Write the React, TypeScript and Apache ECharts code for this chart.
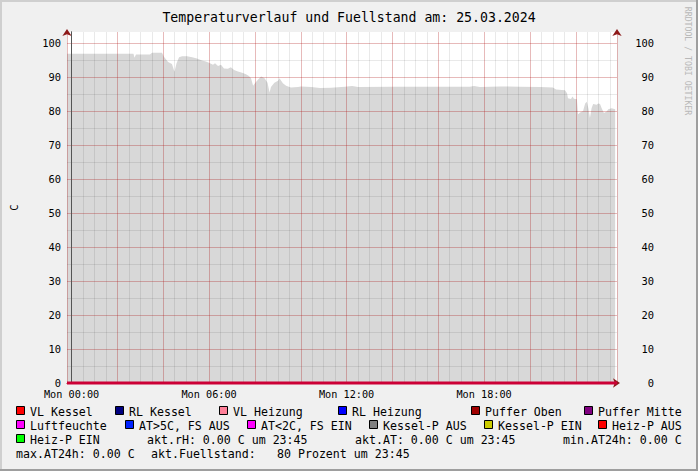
import React, { useEffect, useRef } from 'react';
import * as echarts from 'echarts';

// ---- texts ----
const TITLE = 'Temperaturverlauf und Fuellstand am: 25.03.2024';
const Y_NAME = 'C';
const WATERMARK = 'RRDTOOL / TOBI OETIKER';
const X_DAY = 'Mon';
const xLabelHours = [0, 6, 12, 18];
const yLabelValues = [0, 10, 20, 30, 40, 50, 60, 70, 80, 90, 100];

// ---- data (time in hours of 25.03.2024) ----
const fuellTimes = [
  -0.2, 2.7, 2.745, 2.81, 3.42, 3.51, 3.945, 4.03, 4.21, 4.38, 4.49, 4.58, 4.69, 4.82, 5.04, 5.26,
  5.47, 5.69, 5.86, 6.04, 6.17, 6.26, 6.39, 6.52, 6.65, 6.82, 6.95, 7.09, 7.26, 7.44, 7.61, 7.74,
  7.83, 7.92, 8.01, 8.14, 8.27, 8.42, 8.55, 8.64, 8.7, 8.85, 9.01, 9.07, 9.22, 9.36, 9.57, 9.88,
  10.01, 10.45, 10.84, 11.32, 11.93, 12.24, 12.5, 14.0, 15.5, 17.38, 17.56, 17.82, 18.69, 19.56,
  20.44, 21.0, 21.14, 21.53, 21.62, 21.66, 21.79, 21.86, 21.92, 22.05, 22.1, 22.19, 22.32, 22.41,
  22.48, 22.55, 22.62, 22.69, 22.76, 22.91, 22.98, 23.06, 23.13, 23.23, 23.35, 23.42, 23.57, 23.72,
];
const fuellValues = [
  96.8, 96.8, 95.6, 96.6, 96.6, 97.1, 97.1, 95.9, 94.4, 93.8, 91.5, 94.0, 95.8, 96.1, 96.1, 95.8,
  95.4, 94.8, 94.5, 94.0, 93.6, 94.0, 93.2, 93.6, 92.5, 92.4, 92.8, 92.0, 91.6, 91.2, 90.8, 90.3,
  89.6, 87.4, 88.2, 89.2, 90.1, 89.6, 88.3, 85.4, 87.0, 88.3, 88.9, 89.6, 88.1, 87.4, 86.9, 87.0,
  87.2, 87.0, 86.7, 86.8, 87.1, 87.3, 87.0, 87.1, 87.1, 87.1, 87.3, 87.0, 87.2, 87.1,
  87.0, 86.9, 86.3, 86.1, 85.2, 83.7, 83.5, 84.2, 83.6, 83.4, 79.0, 79.5, 80.0, 82.2,
  82.7, 80.8, 77.9, 80.8, 82.0, 81.8, 82.2, 82.0, 80.8, 79.4, 79.8, 80.5, 80.8, 80.5,
];
const zeroTimes = [-0.2, 23.8];
const zeroValues = [0, 0];

// ---- legend ----
const legendNames = [
  'VL Kessel', 'RL Kessel', 'VL Heizung', 'RL Heizung', 'Puffer Oben', 'Puffer Mitte',
  'Luftfeuchte', 'AT>5C, FS AUS', 'AT<2C, FS EIN', 'Kessel-P AUS', 'Kessel-P EIN', 'Heiz-P AUS',
  'Heiz-P EIN',
];
const legendColors = [
  '#ff0000', '#000080', '#ff8099', '#0000ff', '#a00000', '#800080',
  '#ff00ff', '#0022ff', '#ff00ff', '#808080', '#cccc00', '#ff0000',
  '#00ff00',
];
const statTexts = [
  'akt.rH: 0.00 C um 23:45', 'akt.AT: 0.00 C um 23:45', 'min.AT24h: 0.00 C',
  'max.AT24h: 0.00 C', 'akt.Fuellstand:', '80 Prozent um 23:45',
];

// ---- layout (positions only) ----
const XMIN = -0.2;
const XMAX = 23.8;
const YMAX = 103.2;
const rowY = [411, 425, 439, 453];
const legendPos: [number, number][] = [
  [16, 0], [115, 0], [219, 0], [338, 0], [471, 0], [584, 0],
  [16, 1], [125, 1], [247, 1], [369, 1], [484, 1], [598, 1],
  [16, 2],
];
const statPos: [number, number][] = [[147, 2], [355, 2], [563, 2], [16, 3], [151, 3], [277, 3]];

const MONO = '"DejaVu Sans Mono", monospace';
const MAJOR = 'rgba(225,0,0,0.2)';
const MINOR = 'rgba(0,0,0,0.085)';
const AXIS = '#555555';
const ARROW = '#8b1a1a';

const pad = (n: number) => (n < 10 ? '0' + n : '' + n);

export default function App() {
  const ref = useRef<HTMLDivElement>(null);
  useEffect(() => {
    if (!ref.current) return;
    const chart = echarts.init(ref.current, undefined, { renderer: 'svg' });

    const graphics: any[] = [
      { type: 'rect', shape: { x: 0, y: 0, width: 698, height: 2 }, style: { fill: '#cfcfcf' }, silent: true },
      { type: 'rect', shape: { x: 0, y: 0, width: 2, height: 471 }, style: { fill: '#cfcfcf' }, silent: true },
      { type: 'rect', shape: { x: 696, y: 0, width: 2, height: 471 }, style: { fill: '#9e9e9e' }, silent: true },
      { type: 'rect', shape: { x: 0, y: 469, width: 698, height: 2 }, style: { fill: '#9e9e9e' }, silent: true },
      {
        type: 'text', x: 688, y: 61, rotation: -Math.PI / 2, silent: true,
        style: { text: WATERMARK, fill: '#b8b8b8', fontFamily: MONO, fontSize: 8.2, align: 'center', verticalAlign: 'middle' },
      },
    ];
    legendNames.forEach((name, i) => {
      const [x, r] = legendPos[i];
      const cy = rowY[r];
      graphics.push({
        type: 'rect', silent: true,
        shape: { x: x + 0.5, y: cy - 4.5, width: 8, height: 8 },
        style: { fill: legendColors[i], stroke: '#000', lineWidth: 1 },
      });
      graphics.push({
        type: 'text', x: x + 14, y: cy + 0.5, silent: true,
        style: { text: name, fill: '#000', fontFamily: MONO, fontSize: 11.6, align: 'left', verticalAlign: 'middle' },
      });
    });
    statTexts.forEach((t, i) => {
      const [x, r] = statPos[i];
      graphics.push({
        type: 'text', x, y: rowY[r] + 0.5, silent: true,
        style: { text: t, fill: '#000', fontFamily: MONO, fontSize: 11.6, align: 'left', verticalAlign: 'middle' },
      });
    });

    const yFmt = (v: number) => {
      const f = yLabelValues.find((y) => Math.abs(y - v) < 1e-6);
      return f === undefined ? '' : String(f);
    };
    const xFmt = (v: number) => {
      const h = xLabelHours.find((x) => Math.abs(x - v) < 1e-6);
      return h === undefined ? '' : `${X_DAY} ${pad(h)}:00`;
    };

    chart.setOption({
      animation: false,
      backgroundColor: '#f0f0f0',
      title: {
        text: TITLE, left: 'center', top: 10, padding: 0,
        textStyle: { fontFamily: MONO, fontSize: 13.2, fontWeight: 'normal', color: '#000', lineHeight: 14 },
      },
      grid: {
        left: 67, right: 81, top: 32, bottom: 88,
        show: true, backgroundColor: '#ffffff', borderWidth: 0,
        containLabel: false, outerBoundsMode: 'none',
      },
      xAxis: [
        {
          type: 'value', min: XMIN, max: XMAX, splitNumber: 12, minInterval: 2, maxInterval: 2, z: 4,
          axisLine: {
            show: true, onZero: false, lineStyle: { color: ARROW, width: 1 },
            symbol: ['none', 'arrow'], symbolSize: [7, 7], symbolOffset: [0, 3],
          },
          axisTick: { show: false },
          axisLabel: { show: true, margin: 6, color: '#000', fontFamily: MONO, fontSize: 10.2, formatter: xFmt },
          splitLine: { show: true, lineStyle: { color: MAJOR, width: 1 } },
        },
        {
          type: 'value', min: XMIN, max: XMAX, splitNumber: 48, minInterval: 0.5, maxInterval: 0.5, z: 3,
          axisLine: { show: false }, axisTick: { show: false }, axisLabel: { show: false },
          splitLine: { show: true, lineStyle: { color: MINOR, width: 1 } },
        },
      ],
      yAxis: [
        {
          type: 'value', position: 'left', min: 0, max: YMAX, interval: 10, z: 4,
          name: Y_NAME, nameLocation: 'middle', nameGap: 48, nameRotate: 90,
          nameTextStyle: { color: '#000', fontFamily: MONO, fontSize: 10.5 },
          axisLine: { show: true, lineStyle: { color: AXIS, width: 1 } },
          axisTick: { show: false },
          axisLabel: { margin: 6, color: '#000', fontFamily: MONO, fontSize: 10.4, formatter: yFmt },
          splitLine: { show: true, showMaxLine: false, lineStyle: { color: MAJOR, width: 1 } },
        },
        {
          type: 'value', position: 'right', min: 0, max: YMAX, interval: 10, z: 4,
          axisLine: { show: true, lineStyle: { color: AXIS, width: 1 } },
          axisTick: { show: false },
          axisLabel: { margin: 37, align: 'right', color: '#000', fontFamily: MONO, fontSize: 10.4, formatter: yFmt },
          splitLine: { show: false },
        },
        {
          type: 'value', position: 'left', min: 0, max: YMAX, interval: 5, z: 3,
          axisLine: {
            show: true, lineStyle: { color: ARROW, width: 0 },
            symbol: ['none', 'arrow'], symbolSize: [7, 7], symbolOffset: [0, 3],
          },
          axisTick: { show: false }, axisLabel: { show: false },
          splitLine: { show: true, showMaxLine: false, lineStyle: { color: MINOR, width: 1 } },
        },
        {
          type: 'value', position: 'right', min: 0, max: YMAX, interval: 10, z: 3,
          axisLine: {
            show: true, lineStyle: { color: ARROW, width: 0 },
            symbol: ['none', 'arrow'], symbolSize: [7, 7], symbolOffset: [0, 3],
          },
          axisTick: { show: false }, axisLabel: { show: false }, splitLine: { show: false },
        },
      ],
      series: [
        {
          type: 'line', name: 'Fuellstand', xAxisIndex: 0, yAxisIndex: 0, z: 2, silent: true,
          data: fuellTimes.map((t, i) => [t, fuellValues[i]]),
          symbol: 'none', showSymbol: false,
          lineStyle: { width: 0, color: '#d8d8d8' },
          areaStyle: { color: '#d8d8d8', opacity: 1 },
        },
        {
          type: 'line', name: legendNames[0], xAxisIndex: 0, yAxisIndex: 0, z: 5, silent: true, clip: false,
          data: zeroTimes.map((t, i) => [t, zeroValues[i]]),
          symbol: 'none', showSymbol: false,
          lineStyle: { width: 3, color: '#cc0036' },
        },
      ],
      graphic: graphics,
    });
    return () => chart.dispose();
  }, []);

  return (
    <div
      ref={ref}
      style={{ position: 'fixed', left: 0, top: 0, width: 698, height: 471, background: '#f0f0f0' }}
    />
  );
}
